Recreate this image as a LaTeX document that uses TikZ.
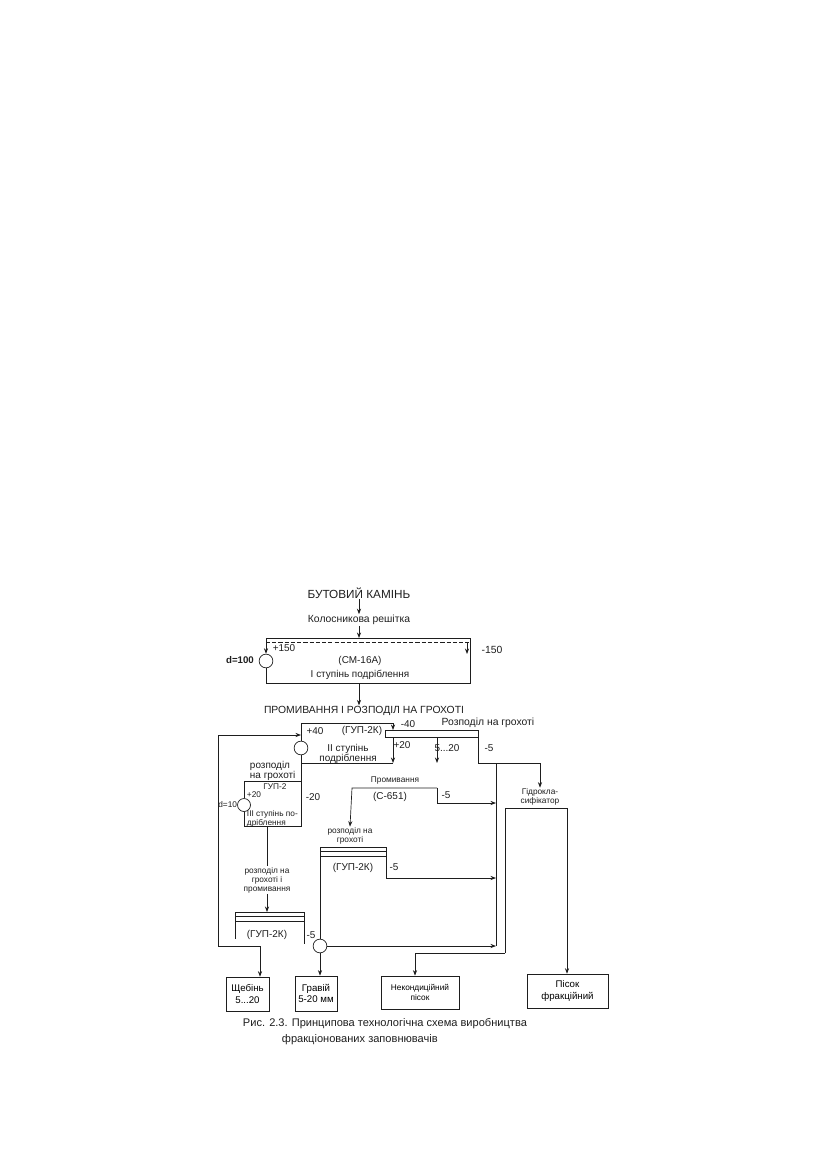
\documentclass[tikz,border=0pt]{standalone}
\usepackage{fontspec}
\setmainfont{Liberation Sans}
\usepackage{tikz}
\usetikzlibrary{arrows.meta, positioning, calc}
\definecolor{ink}{RGB}{30,30,30}
\tikzset{
  txts/.style={font=\fontsize{6}{6.5}\selectfont, color=ink, inner sep=0.5pt, align=center},
  txt/.style={font=\fontsize{7.2}{7.4}\selectfont, color=ink, inner sep=0.5pt, align=center},
  txtm/.style={font=\fontsize{7.5}{8.5}\selectfont, color=ink, inner sep=0.5pt, align=center},
  txtl/.style={font=\fontsize{8.5}{10}\selectfont, color=ink, inner sep=0.5pt, align=center},
  valve/.style={circle, draw=ink, line width=0.5pt, minimum size=3.5mm, inner sep=0pt},
  outbox/.style={rectangle, draw=ink, line width=0.5pt, align=center, inner sep=1pt,
    font=\fontsize{7}{8}\selectfont},
  arrow/.style={-{Stealth[length=4pt, width=3pt]}, line width=0.5pt, color=ink},
  line/.style={line width=0.5pt, color=ink}
}

\begin{document}
\begin{tikzpicture}[x=0.254mm, y=-0.254mm]
  \useasboundingbox (0,0) rectangle (826,1169);
  % Feed
  \node[txtl] (stone) at (359,593) {БУТОВИЙ КАМІНЬ};
  \node[txtm] (grate) at (359,620) {Колосникова решітка};
  \draw[arrow] (stone) -- (grate);
  % Crusher I with screen
  \coordinate (c1nw) at (266,638);
  \coordinate (c1ne) at (470,638);
  \coordinate (c1se) at (470,683);
  \coordinate (c1sw) at (266,683);
  \coordinate (c1out) at (359,683);
  \node[valve] (valve1) at (266,661) {};
  \draw[arrow] (grate.south) -- (grate.south |- c1nw);
  \draw[line] (c1nw) -- (c1ne) -- (c1se) -- (c1sw) -- (valve1.south);
  \draw[arrow] (c1nw) -- (valve1.north);
  \draw[line, dash pattern=on 3pt off 1.5pt] ($(c1nw)+(0,4.5)$) -- ($(c1ne)+(0,4.5)$);
  \draw[arrow] ($(c1ne)+(-3,5)$) -- ($(c1ne)+(-3,16)$);
  \node[txt] (p150) at (284,648) {+150};
  \node[txt, font=\fontsize{7}{8}\selectfont\bfseries] (d100) at (240,660) {d=100};
  \node[txtm] (m150) at (492,650) {-150};
  \node[txt] (cm16) at (360,661) {(СМ-16А)};
  \node[txt] (stage1) at (360,675) {І ступінь подріблення};
  % Washing and screening
  \node[txtm] (wash1) at (364,711) {ПРОМИВАННЯ І РОЗПОДІЛ НА ГРОХОТІ};
  \draw[arrow] (c1out) -- (c1out |- wash1.north);
  % Crusher II with screen
  \coordinate (c2nw) at (301,723);
  \coordinate (c2ne) at (393,723);
  \coordinate (c2se) at (393,763);
  \coordinate (c2sw) at (301,763);
  \coordinate (s1nw) at (385,730);
  \coordinate (s1se) at (478,737);
  \node[valve] (valve2) at (301,748) {};
  \draw[line] (s1nw) rectangle (s1se);
  \draw[line] (c2ne) -- (c2nw) -- (valve2.north);
  \draw[line] (c2sw) -- (c2se);
  \draw[arrow] (c2ne) -- (c2ne |- s1nw);
  \draw[arrow] (c2ne |- s1se) -- (c2se);
  \draw[arrow] (437,737) -- (437,763);
  \node[txt] (p40) at (315,731) {+40};
  \node[txt] (gup1) at (362,731) {(ГУП-2К)};
  \node[txt] (stage2) at (348,754) {ІІ ступінь\\подріблення};
  \node[txt] (m40) at (408,724) {-40};
  \node[txt] (p20a) at (402,745) {+20};
  \node[txtm] (scr1) at (488,723) {Розподіл на грохоті};
  \node[txt] (f520) at (447,748) {5...20};
  \node[txt] (m5a) at (489,748) {-5};
  % Hydroclassifier
  \node[txts] (hydro) at (540,797) {Гідрокла-\\сифікатор};
  \draw[arrow] (s1se) -- (478,763) -| (hydro.north);
  \coordinate (coltop) at (496,763);
  \coordinate (colbot) at (496,946);
  \draw[line] (coltop) -- (colbot);
  \coordinate (hnw) at (505,808);
  \coordinate (hne) at (567,808);
  \coordinate (hsw) at (505,953);
  % Crusher III
  \coordinate (c3nw) at (244,781);
  \coordinate (c3ne) at (301,781);
  \coordinate (c3se) at (301,826);
  \coordinate (c3sw) at (244,826);
  \coordinate (c3out) at (267,826);
  \node[valve, minimum size=3.3mm] (valve3) at (244,805) {};
  \draw[line] (valve2.south) -- (c3se) -- (c3sw) -- (valve3.south);
  \draw[line] (valve3.north) -- (c3nw) -- (c3ne);
  \node[txt, anchor=west, align=left] (scr2) at (249,771) {розподіл\\на грохоті};
  \node[txts] (gup2) at (275,787) {ГУП-2};
  \node[txts] (p20b) at (254,795) {+20};
  \node[txts, anchor=east] (d10) at (238,805) {d=10};
  \node[txts, anchor=west, align=left] (stage3) at (246,819) {ІІІ ступінь по-\\дріблення};
  \node[txt] (m20) at (313,797) {-20};
  % Washer C-651
  \coordinate (wA) at (352,788);
  \coordinate (wB) at (437,788);
  \node[txts] (wash2) at (395,780) {Промивання};
  \node[txt] (c651) at (390,797) {(С-651)};
  \node[txt] (m5b) at (446,795) {-5};
  \node[txts] (scr3) at (350,836) {розподіл на\\грохоті};
  \draw[arrow] (wB) -- (wA) -- (scr3.north);
  \draw[arrow] (wB) |- (coltop |- 0,803);
  % Screen GUP-2K, middle
  \coordinate (s2nw) at (320,847);
  \coordinate (s2ne) at (386,847);
  \node[valve] (valve4) at (320,946) {};
  \draw[line] (s2nw) -- (s2ne);
  \draw[line] ($(s2nw)+(0,4)$) -- ($(s2ne)+(0,4)$);
  \draw[line] ($(s2nw)+(0,9)$) -- ($(s2ne)+(0,9)$);
  \draw[line] (s2nw) -- (valve4.north);
  \draw[arrow] (s2ne) -- (386,878) -- (coltop |- 0,878);
  \draw[arrow] (valve4.east) -- (colbot);
  \node[txt] (gup3) at (353,868) {(ГУП-2К)};
  \node[txt] (m5c) at (394,867) {-5};
  % Screen GUP-2K, lower
  \node[txts] (wash3) at (267,880) {розподіл на\\грохоті і\\промивання};
  \draw[line] (c3out) -- (wash3.north);
  \coordinate (s3nw) at (235,912);
  \coordinate (s3ne) at (304,912);
  \draw[arrow] (wash3.south) -- (wash3.south |- s3nw);
  \draw[line] (s3nw) -- (s3ne);
  \draw[line] ($(s3nw)+(0,4)$) -- ($(s3ne)+(0,4)$);
  \draw[line] ($(s3nw)+(0,9)$) -- ($(s3ne)+(0,9)$);
  \draw[line] (s3nw) -- ++(0,27);
  \draw[line] (s3ne) -- ++(0,32);
  \node[txt] (gup4) at (267,935) {(ГУП-2К)};
  \node[txt] (m5d) at (311,935) {-5};
  % Products
  \node[outbox, minimum width=10.9mm, minimum height=8.6mm] (sheb) at (247.5,994) {Щебінь\\5...20};
  \node[outbox, minimum width=10.7mm, minimum height=8.9mm] (grav) at (316,993.5) {Гравій\\5-20 мм};
  \node[outbox, minimum width=19.8mm, minimum height=8.4mm, font=\fontsize{6}{7.5}\selectfont] (nonc) at (420,992.5) {Некондиційний\\пісок};
  \node[outbox, minimum width=20.6mm, minimum height=8.6mm] (sand) at (567.5,991) {Пісок\\фракційний};
  \draw[arrow] (valve4.south) -- (valve4.south |- grav.north);
  \draw[line] (hsw) -- (hnw) -- (hne);
  \draw[arrow] (hne) -- (hne |- sand.north);
  \draw[arrow] (hsw) -| ($(nonc.north)+(-5,0)$);
  % Return line
  \coordinate (ret) at (218,946);
  \draw[arrow] (ret) -- (218,735) -- (c2nw |- 0,735);
  \draw[arrow] (ret) -- (260,946) -- (260,0 |- sheb.north);
  % Caption
  \node[txtm, font=\fontsize{8}{9}\selectfont, anchor=west] (cap1) at (242,1024) {Рис. 2.3. Принципова технологічна схема виробництва};
  \node[txtm, font=\fontsize{8}{9}\selectfont, anchor=west] (cap2) at (281,1040) {фракціонованих заповнювачів};
\end{tikzpicture}
\end{document}
